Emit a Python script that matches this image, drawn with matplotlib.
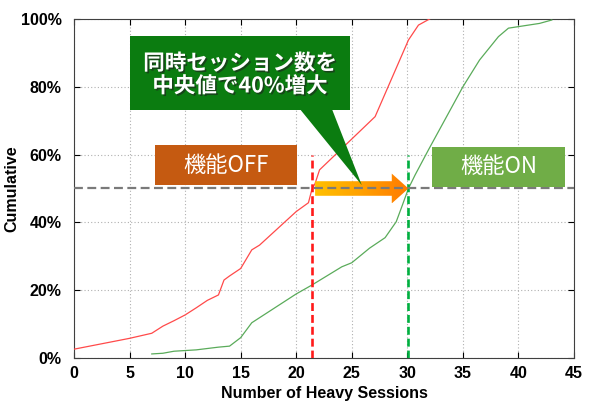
import matplotlib
matplotlib.use("Agg")
import matplotlib.pyplot as plt
import matplotlib.patheffects as pe
from matplotlib.patches import Polygon, Rectangle
from matplotlib.ticker import FuncFormatter
import numpy as np

# CDF of heavy sessions (x = sessions, y = %)
off_x = [0, 5, 7, 8, 9, 10, 11, 12, 13, 13.5, 14, 15, 16, 16.7, 20, 21.1,
         21.4, 21.7, 22.1, 25, 27.1, 30.1, 31, 32]
off_y = [2.6, 5.8, 7.3, 9.4, 11, 12.7, 14.8, 17, 18.6, 23, 24.2, 26.4, 31.9,
         33.3, 43.2, 45.8, 49.6, 51.5, 55.5, 64.6, 71.2, 93.8, 98.2, 100]
on_x = [7, 8, 9, 10, 11, 12, 13, 14, 15, 16, 20, 21.4, 24.1, 25, 26.6, 28,
        29.0, 29.5, 30.1, 30.7, 31.9, 35, 36.5, 38.2, 39.1, 41.9, 43]
on_y = [1.2, 1.4, 2, 2.2, 2.4, 2.8, 3.2, 3.5, 6, 10.4, 18.9, 21.5, 26.9, 28.1,
        32.4, 35.5, 40.2, 44.6, 50, 54, 61.4, 80, 87.9, 94.8, 97.3, 98.7, 99.7]
off_median = 21.45
on_median = 30.1
x_ticks = [0, 5, 10, 15, 20, 25, 30, 35, 40, 45]
y_ticks = [0, 20, 40, 60, 80, 100]

plt.rcParams['font.family'] = ['Liberation Sans', 'DejaVu Sans']
jp = ['Noto Sans CJK JP', 'DejaVu Sans']

fig = plt.figure(figsize=(6, 4.11), dpi=100)
ax = fig.add_axes([74 / 600, 53 / 411, 500 / 600, 339 / 411])

ax.plot(off_x, off_y, color='#ff4a4a', lw=0.9, zorder=3)
ax.plot(on_x, on_y, color='#5aab5a', lw=0.9, zorder=3)

ax.plot([off_median, off_median], [0, 60], color='#ff1a1a', lw=1.9,
        ls=(0, (3, 1.5)), zorder=4)
ax.plot([on_median, on_median], [0, 60], color='#00b040', lw=1.9,
        ls=(0, (3, 1.5)), zorder=4)

ax.set_xlim(0, 45)
ax.set_ylim(0, 100)
ax.set_xticks(x_ticks)
ax.set_yticks(y_ticks)
ax.yaxis.set_major_formatter(FuncFormatter(lambda v, p: "%d%%" % v))
ax.tick_params(direction='in', top=True, right=True, length=4,
               labelsize=11.5)
ax.tick_params(axis='y', pad=9)
ax.tick_params(axis='x', pad=6)
for lab in ax.get_xticklabels() + ax.get_yticklabels():
    lab.set_fontweight('bold')
ax.grid(True, color='#b0b0b0', ls=(0, (1, 2)), lw=0.8)
for s in ax.spines.values():
    s.set_color('#404040')
ax.set_xlabel("Number of Heavy Sessions", fontsize=11.5, fontweight='bold',
              labelpad=3)
ax.set_ylabel("Cumulative", fontsize=11.5, fontweight='bold')
ax.yaxis.set_label_coords(-0.11, 0.5)

# gradient arrow from OFF median to ON median
y0 = 50
bh, hh, hl = 2.15, 4.4, 1.5
ax_start = 21.7
pts = [(ax_start, y0 - bh), (on_median - hl, y0 - bh), (on_median - hl, y0 - hh),
       (on_median, y0), (on_median - hl, y0 + hh), (on_median - hl, y0 + bh),
       (ax_start, y0 + bh)]
arrow = Polygon(pts, closed=True, facecolor='none', edgecolor='none',
                transform=ax.transData)
ax.add_patch(arrow)
grad = np.linspace(0, 1, 256).reshape(1, -1)
cmap = matplotlib.colors.LinearSegmentedColormap.from_list(
    'arr', ['#ffc000', '#ffa000', '#ff7a00'])
im = ax.imshow(grad, extent=[ax_start, on_median, y0 - hh, y0 + hh],
               aspect='auto', cmap=cmap, zorder=5, origin='lower')
im.set_clip_path(arrow)
ax.set_xlim(0, 45)
ax.set_ylim(0, 100)

ax.axhline(50, color='#7a7a7a', lw=1.6, ls=(0, (4, 2)), zorder=6)

# callout
green = '#0b7c10'
ax.add_patch(Rectangle((5.04, 73.2), 19.8, 21.8, facecolor=green,
                       edgecolor='none', zorder=7))
ax.add_patch(Polygon([(20.34, 73.4), (23.22, 73.4), (25.9, 51.0)],
                     closed=True, facecolor=green, edgecolor='none', zorder=7))
ax.text(14.94, 83.6, "同時セッション数を\n中央値で40%増大", family=jp,
        fontsize=15.5, fontweight='bold', color='white', ha='center',
        va='center', linespacing=1.1, zorder=8,
        path_effects=[pe.withSimplePatchShadow(offset=(1.2, -1.2),
                                               shadow_rgbFace='#202020',
                                               alpha=0.6)])

ax.add_patch(Rectangle((7.29, 51.0), 12.78, 11.8, facecolor='#c55a11',
                       edgecolor='none', zorder=7))
ax.text(13.68, 56.9, "機能OFF", family=jp, fontsize=16, color='white',
        ha='center', va='center', zorder=8)

ax.add_patch(Rectangle((32.19, 50.5), 12.0, 11.8, facecolor='#70ad47',
                       edgecolor='none', zorder=7))
ax.text(38.19, 56.4, "機能ON", family=jp, fontsize=16, color='white',
        ha='center', va='center', zorder=8)

fig.savefig("out.png", dpi=100)
